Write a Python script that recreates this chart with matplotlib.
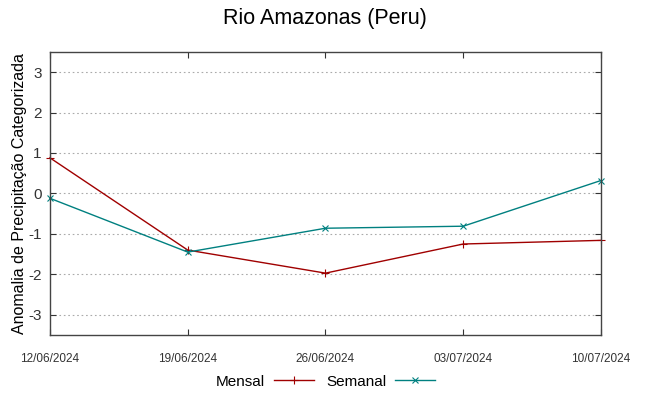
import numpy as np
import matplotlib.pyplot as plt

plt.rcParams['font.family'] = ['Liberation Sans', 'DejaVu Sans']

# dados
datas = ["12/06/2024", "19/06/2024", "26/06/2024", "03/07/2024", "10/07/2024"]
mensal = [0.88, -1.40, -1.97, -1.25, -1.16]
semanal = [-0.12, -1.45, -0.86, -0.81, 0.32]
yticks = [-3, -2, -1, 0, 1, 2, 3]

x = np.arange(len(datas))

fig = plt.figure(figsize=(6.49, 3.96), dpi=100)
ax = fig.add_axes([0.077, 0.154, 0.849, 0.715])

ax.plot(x, mensal, color="#a00000", lw=1, marker="+", ms=6, mew=0.8,
        label="Mensal", clip_on=False)
ax.plot(x, semanal, color="#008080", lw=1, marker="x", ms=5, mew=0.8,
        label="Semanal", clip_on=False)

ax.set_xlim(0, len(datas) - 1)
ax.set_ylim(-3.5, 3.5)
ax.set_xticks(x)
ax.set_xticklabels(datas, fontsize=8.5)
ax.set_yticks(yticks)
ax.set_yticklabels([str(v) for v in yticks], fontsize=11)
ax.tick_params(axis="x", direction="in", top=True, length=4, pad=13, colors="#333333")
ax.tick_params(axis="y", direction="in", right=True, length=4, pad=6, colors="#333333")
ax.yaxis.grid(True, linestyle=(0, (1.5, 2.5)), color="#aaaaaa", lw=0.8)
for s in ax.spines.values():
    s.set_color("#444444")
    s.set_linewidth(1)

ax.set_ylabel("Anomalia de Precipitação Categorizada", fontsize=11.5, labelpad=1)
fig.text(0.5, 0.953, "Rio Amazonas (Peru)", ha="center", va="center", fontsize=15.5)

ax.legend(loc="center", bbox_to_anchor=(0.5, -0.165), ncol=2, frameon=False,
          markerfirst=False, fontsize=11, handlelength=2.6, columnspacing=0.8,
          handletextpad=0.6, borderpad=0)

fig.savefig("out.png", dpi=100)
